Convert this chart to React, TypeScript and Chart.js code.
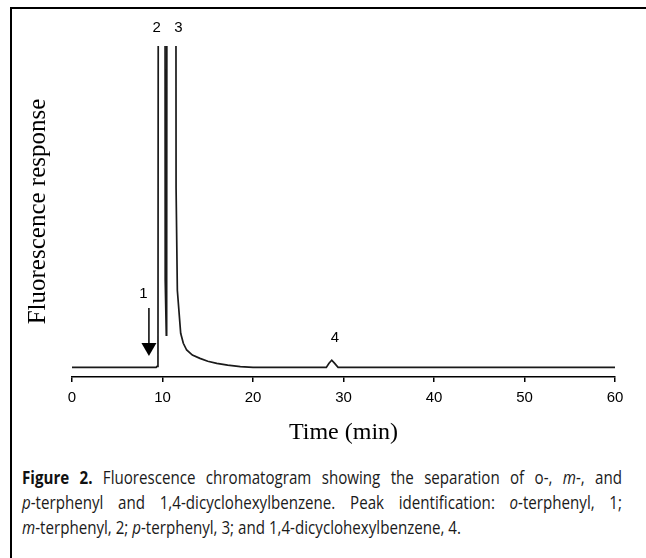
import React, { useEffect, useLayoutEffect, useRef, useState } from "react";
import { Chart, registerables } from "chart.js";

Chart.register(...registerables);

// Chromatogram trace (time in min, fluorescence response in arbitrary units; >100 = off scale)
const times = [0, 9.3, 9.4, 9.5, 9.55, 10.27, 10.3, 10.42, 10.46, 10.5, 11.47, 11.5, 11.64, 12.01, 12.3, 12.67, 13.3, 14.14, 15.0, 16.0, 17.2, 18.6, 20, 28.1, 28.4, 28.7, 29.0, 29.4, 60];
const response = [0, 0, 0.3, 3, 180, 180, 27, 10, 27, 180, 180, 56, 24, 10.6, 7.5, 5.4, 3.8, 2.8, 1.9, 1.25, 0.7, 0.2, 0, 0, 1.3, 2.2, 1.3, 0, 0];

// Peak labels
const peakLabels = ["1", "2", "3", "4"];
const peakLabelTimes = [7.9, 9.36, 11.75, 29.06];
const peakLabelLevels = [23.0, 105.5, 105.5, 9.1];

// Arrow marking peak 1
const arrowTime = 8.5;
const arrowStart = 18.5;
const arrowTip = 3.5;

// Axis
const xMin = 0;
const xMax = 60;
const xStep = 10;
const yMin = -3;
const yMax = 100;

const annotationPlugin = {
  id: "peakAnnotations",
  afterDatasetsDraw(chart: any) {
    const { ctx, scales } = chart;
    const xs = scales.x;
    const ys = scales.y;
    ctx.save();
    ctx.fillStyle = "#000";
    ctx.font = "15px 'Liberation Sans', Arial, sans-serif";
    ctx.textAlign = "center";
    ctx.textBaseline = "middle";
    peakLabels.forEach((lab, i) => {
      ctx.fillText(lab, xs.getPixelForValue(peakLabelTimes[i]), ys.getPixelForValue(peakLabelLevels[i]));
    });
    // arrow
    const ax = xs.getPixelForValue(arrowTime);
    const y0 = ys.getPixelForValue(arrowStart);
    const yt = ys.getPixelForValue(arrowTip);
    const headLen = 13;
    const headHalf = 7.5;
    ctx.strokeStyle = "#000";
    ctx.lineWidth = 1.5;
    ctx.beginPath();
    ctx.moveTo(ax, y0);
    ctx.lineTo(ax, yt - headLen);
    ctx.stroke();
    ctx.beginPath();
    ctx.moveTo(ax - headHalf, yt - headLen);
    ctx.lineTo(ax + headHalf, yt - headLen);
    ctx.lineTo(ax, yt);
    ctx.closePath();
    ctx.fill();
    ctx.restore();
  },
};

function ChromChart() {
  const ref = useRef<HTMLCanvasElement | null>(null);
  useEffect(() => {
    if (!ref.current) return;
    const chart = new Chart(ref.current, {
      type: "line",
      data: {
        datasets: [
          {
            data: times.map((t, i) => ({ x: t, y: response[i] })),
            borderColor: "#1a1a1a",
            borderWidth: 1.7,
            pointRadius: 0,
            tension: 0,
            fill: false,
          },
        ],
      },
      options: {
        responsive: false,
        animation: false,
        layout: { padding: { left: 0, right: 31, top: 46, bottom: 0 } },
        plugins: { legend: { display: false }, tooltip: { enabled: false } },
        scales: {
          x: {
            type: "linear",
            min: xMin,
            max: xMax,
            ticks: {
              stepSize: xStep,
              maxRotation: 0,
              padding: 7,
              color: "#000",
              font: { family: "'Liberation Sans', Arial, sans-serif", size: 15 },
            },
            grid: { display: true, drawOnChartArea: false, drawTicks: true, tickLength: 5, color: "#000", lineWidth: 1.5 },
            border: { display: true, color: "#000", width: 1.5 },
            title: {
              display: true,
              text: "Time (min)",
              color: "#000",
              font: { family: "'Liberation Serif', 'Times New Roman', serif", size: 24 },
              padding: { top: 0, bottom: 3 },
            },
            afterFit: (s: any) => {
              s.height = 73;
            },
          },
          y: {
            min: yMin,
            max: yMax,
            ticks: { display: false },
            grid: { display: false },
            border: { display: false },
            title: {
              display: true,
              text: "Fluorescence response",
              color: "#000",
              font: { family: "'Liberation Serif', 'Times New Roman', serif", size: 25 },
              padding: { top: 23, bottom: 0 },
            },
            afterFit: (s: any) => {
              s.width = 72;
            },
          },
        },
      } as any,
      plugins: [annotationPlugin],
    });
    return () => chart.destroy();
  }, []);
  return <canvas ref={ref} width={646} height={450} style={{ position: "absolute", left: 0, top: 0, width: 646, height: 450 }} />;
}

export default function App() {
  const capFont = "'Open Sans', 'Liberation Sans', sans-serif";
  const lastLine = useRef<HTMLSpanElement | null>(null);
  const [sx, setSx] = useState(1);
  useLayoutEffect(() => {
    if (lastLine.current) {
      const w = lastLine.current.getBoundingClientRect().width;
      if (w > 0) setSx(439 / w);
    }
  }, []);
  const fullW = 600 / sx;
  const justified: React.CSSProperties = { width: fullW, textAlign: "justify", textAlignLast: "justify", whiteSpace: "normal" };
  return (
    <div style={{ position: "fixed", left: 0, top: 0, width: 646, height: 558, overflow: "hidden", background: "#fff" }}>
      <div
        style={{
          position: "absolute",
          left: 10,
          top: 7,
          width: 700,
          height: 600,
          borderTop: "2px solid #000",
          borderLeft: "2px solid #000",
        }}
      />
      <ChromChart />
      <div
        style={{
          position: "absolute",
          left: 22,
          top: 464,
          fontFamily: capFont,
          fontSize: 18.5,
          lineHeight: "25px",
          color: "#1a1a1a",
          whiteSpace: "nowrap",
          transform: `scaleX(${sx})`,
          transformOrigin: "0 0",
        }}
      >
        <div style={justified}>
          <b style={{ color: "#111" }}>Figure 2.</b> Fluorescence chromatogram showing the separation of o-, <i>m</i>-, and
        </div>
        <div style={justified}>
          <i>p</i>-terphenyl and 1,4-dicyclohexylbenzene. Peak identification: <i>o</i>-terphenyl, 1;
        </div>
        <div>
          <span ref={lastLine}>
            <i>m</i>-terphenyl, 2; <i>p</i>-terphenyl, 3; and 1,4-dicyclohexylbenzene, 4.
          </span>
        </div>
      </div>
    </div>
  );
}
